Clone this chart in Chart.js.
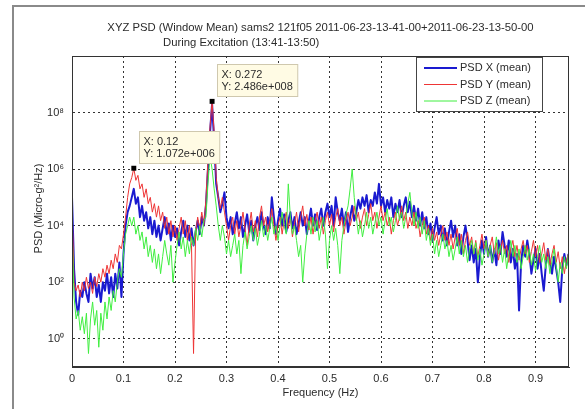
<!DOCTYPE html>
<html>
<head>
<meta charset="utf-8">
<script src="https://cdn.jsdelivr.net/npm/chart.js@4.4.1/dist/chart.umd.min.js"></script>
<style>
  html, body { margin: 0; padding: 0; background: #fff; }
  #wrap { position: relative; width: 587px; height: 409px; }
  canvas { display: block; }
</style>
</head>
<body>
<div id="wrap"><canvas id="psdChart" width="587" height="409"></canvas></div>
<script>
// frequency bins are 0.004 Hz apart, starting at 0
const FREQ_STEP = 0.004;

const psdX = [
  1e5, 3e2, 2e1, 7, 5e1, 3e1, 1e2, 4e1, 2e1, 2e2,
  6e1, 1.5e2, 3e1, 8e1, 2e1, 1e2, 5e1, 2e2, 4e1, 1.5e2,
  3e1, 2e2, 6e1, 5e2, 3e1, 1e3, 1e4, 3e4, 5e4, 1e5,
  2e5, 6e4, 1e5, 2e4, 5e4, 1.5e4, 3e4, 8e3, 2e4, 5e3,
  1.5e4, 4e3, 1e4, 3e3, 8e3, 2e4, 5e3, 1.2e4, 3e3, 1e4,
  4e3, 8e3, 2e3, 6e3, 1.5e4, 4e3, 1e4, 3e3, 8e3, 2e3,
  6e3, 1.5e4, 5e3, 2e4, 1e4, 5e4, 1e6, 2e7, 2e8, 1e7,
  3e5, 1e5, 3e4, 6e4, 1.5e5, 2e4, 8e3, 2e4, 5e3, 1.2e4,
  3e4, 8e3, 2e4, 4e3, 1e4, 2.5e4, 6e3, 1.5e4, 3e3, 1e4,
  2e4, 7e3, 3e4, 1e4, 5e3, 2e4, 8e3, 1e5, 2e4, 5e3,
  1.5e4, 4e4, 1e4, 2.5e4, 6e3, 1.5e4, 3e4, 8e3, 2e4, 5e3,
  1.2e4, 3e4, 1e4, 2e4, 5e3, 1.5e4, 4e4, 1e4, 2.5e4, 7e3,
  2e4, 4e4, 1e4, 3e4, 6e4, 2e4, 5e4, 1e4, 1e5, 3e4,
  1.5e4, 4e4, 1e4, 3e4, 6e3, 2e4, 5e4, 1.5e4, 3e4, 8e4,
  4e4, 1e5, 5e4, 1.2e5, 3e4, 8e4, 5e4, 1.5e5, 6e4, 3e5,
  5e4, 1e5, 3e4, 8e4, 4e4, 1e5, 2e4, 6e4, 3e4, 8e4,
  2e4, 5e4, 1e5, 3e4, 7e4, 2e4, 5e4, 1.5e4, 4e4, 1e4,
  3e4, 8e3, 2e4, 5e3, 1.2e4, 3e3, 8e3, 2e4, 5e3, 1e4,
  3e3, 8e3, 2e3, 6e3, 1.5e4, 4e3, 1e4, 2e3, 5e3, 1e3,
  4e3, 1e4, 3e3, 6e2, 2e3, 5e2, 1.5e3, 1e2, 8e2, 3e3,
  1e3, 4e3, 8e2, 2e3, 5e2, 1.5e3, 4e2, 3e3, 1e3, 6e3,
  2e3, 8e2, 3e3, 5e2, 1.5e3, 3e2, 1e3, 1e1, 5e2, 2e3,
  8e2, 3e3, 1e3, 2e2, 6e2, 1.5e3, 3e2, 1e3, 2e2, 5e1,
  4e2, 1.5e3, 5e2, 2e2, 8e2, 3e2, 1e2, 2e1, 3e2, 1e3,
  4e2, 1e3
];

const psdY = [
  5e4, 1e2, 5e1, 8e1, 3e1, 1e2, 5e1, 1.5e2, 6e1, 1e2,
  4e1, 1.5e2, 7e1, 2e2, 1e2, 3e2, 1.5e2, 4e2, 2e2, 6e2,
  3e2, 1e3, 5e2, 2e3, 1.5e3, 5e3, 2e4, 1e5, 3e5, 5e5,
  1.072e6, 4e5, 6e5, 2e5, 3e5, 1e5, 2e5, 6e4, 1e5, 3e4,
  6e4, 2e4, 5e4, 1.5e4, 3e4, 8e3, 2e4, 5e3, 1.5e4, 4e3,
  1e4, 3e3, 8e3, 2e4, 5e3, 1.5e4, 3e3, 1e4, 2e3, 0.3,
  5e3, 2e4, 8e3, 3e4, 1e4, 8e4, 2e6, 3e7, 2.486e8, 2e7,
  5e5, 1e5, 4e4, 1e5, 3e4, 1e4, 3e3, 1e4, 2e4, 5e3,
  1.5e4, 4e3, 1e4, 3e4, 8e3, 2e3, 1e4, 3e4, 6e3, 1.5e4,
  4e3, 2e4, 5e4, 1e4, 2e4, 6e3, 1.5e4, 4e4, 1e4, 3e3,
  1e4, 2e4, 5e3, 1.5e4, 3e4, 8e3, 2e4, 4e3, 1.2e4, 3e4,
  6e3, 2e4, 5e4, 1e4, 2.5e4, 7e3, 2e4, 5e3, 1.5e4, 3e4,
  8e3, 2e4, 5e3, 1.5e4, 3e4, 1e4, 2.5e4, 6e3, 2e4, 4e4,
  1e4, 2e4, 5e3, 1.5e4, 3e4, 1e4, 2e4, 5e4, 1.5e4, 3e4,
  8e3, 2e4, 4e4, 1e4, 2.5e4, 6e4, 1.5e4, 3e4, 8e3, 2e4,
  5e4, 1.5e4, 3e4, 1e4, 2e4, 5e3, 1.5e4, 3e4, 1e4, 2e4,
  5e4, 1.5e4, 3e4, 8e3, 2e4, 1e4, 3e4, 8e3, 1.5e4, 4e3,
  1e4, 2e4, 5e3, 1e4, 3e3, 8e3, 3e3, 6e3, 2e3, 5e3,
  1e4, 3e3, 6e3, 2e3, 5e3, 1.5e3, 4e3, 8e3, 2e3, 5e3,
  1e3, 3e3, 6e3, 2e3, 4e3, 1e3, 3e3, 8e2, 2e3, 5e3,
  1.5e3, 3e3, 8e2, 2e3, 4e3, 1e3, 2.5e3, 6e2, 1.5e3, 3e3,
  1e3, 2e3, 5e2, 1.5e3, 3e3, 8e2, 2e3, 6e2, 1.5e3, 3e3,
  1e3, 2e3, 5e2, 1.2e3, 3e3, 8e2, 2e3, 5e2, 1e3, 2.5e3,
  6e2, 1.5e3, 4e2, 1e3, 2e3, 5e2, 1.2e3, 3e2, 8e2, 2e2,
  6e2, 1e3
];

const psdZ = [
  1e4, 3e1, 5, 1e1, 2, 6, 1.5, 8, 0.3, 5,
  2e1, 3, 1e1, 0.5, 8, 2, 2e1, 5, 3e1, 1e1,
  5e1, 2e1, 1e2, 3e2, 1.5e2, 1e3, 5e3, 1e4, 2e4, 1e4,
  2e4, 5e3, 1e4, 3e3, 6e3, 1.5e3, 4e3, 8e2, 2e3, 5e2,
  1.5e3, 3e2, 1e3, 2e2, 8e2, 3e3, 1e3, 4e2, 2e3, 1e2,
  5e2, 2e3, 6e3, 1.5e3, 4e3, 8e2, 3e3, 1e3, 4e3, 2e3,
  8e3, 3e3, 1e4, 4e3, 1.5e4, 2e4, 3e5, 3e6, 1e6, 2e5,
  5e4, 1e4, 3e3, 1e4, 4e3, 1e3, 3e3, 8e2, 2e3, 5e3,
  1e3, 3e3, 2e2, 2e3, 6e3, 1.5e3, 4e3, 1e4, 3e3, 8e3,
  2e3, 5e3, 1.5e4, 4e3, 1e4, 3e3, 8e3, 2e4, 5e3, 1e4,
  3e3, 1e4, 3e4, 1e4, 5e3, 3e5, 2e4, 5e3, 1e4, 3e3,
  8e2, 2e3, 1e2, 1e3, 5e3, 1.5e4, 5e3, 2e4, 6e3, 1.5e4,
  3e3, 8e3, 2e4, 5e3, 3e2, 3e3, 1e4, 3e3, 8e3, 2e3,
  2e2, 3e3, 1e4, 2.5e4, 5e4, 2e5, 1e6, 1e5, 2e4, 5e3,
  1.5e4, 4e3, 1e4, 3e4, 8e3, 2e4, 5e3, 1.2e4, 3e4, 1e4,
  2e4, 5e3, 1.5e4, 4e4, 1e4, 2e4, 6e3, 1.5e4, 5e4, 1.5e4,
  3e4, 8e3, 2e4, 6e4, 1.5e5, 3e4, 1e4, 3e4, 8e3, 2e4,
  5e3, 1.5e4, 3e3, 8e3, 2e3, 5e3, 1e3, 3e3, 8e2, 2e3,
  5e3, 1.5e3, 3e3, 8e2, 2e3, 6e2, 1.5e3, 4e3, 1e3, 3e3,
  8e2, 2e3, 5e2, 1.5e3, 3e3, 1e3, 2.5e3, 6e2, 1.5e3, 4e2,
  1e3, 3e3, 8e2, 2e3, 5e2, 1.2e3, 4e3, 1e3, 2e3, 5e2,
  1.5e3, 3e2, 1e3, 3e3, 8e2, 2e3, 5e2, 1.5e3, 3e2, 8e2,
  2e3, 6e2, 1.5e3, 4e2, 1e3, 2.5e2, 8e2, 2e3, 5e2, 1e3,
  3e2, 8e2, 2e2, 6e2, 1.5e3, 4e2, 1e2, 5e2, 2e2, 8e2,
  3e2, 1e3
];

const seriesLabels = ["PSD X (mean)", "PSD Y (mean)", "PSD Z (mean)"];
const xTicks = [0, 0.1, 0.2, 0.3, 0.4, 0.5, 0.6, 0.7, 0.8, 0.9];
const yTicks = [1, 1e2, 1e4, 1e6, 1e8];
const yTickLabels = ["10\u2070", "10\u00b2", "10\u2074", "10\u2076", "10\u2078"];

// data tips (marked points)
const tipFreqs = [0.12, 0.272];
const tipValues = [1.072e6, 2.486e8];
const tipTexts = [["X: 0.12", "Y: 1.072e+006"], ["X: 0.272", "Y: 2.486e+008"]];

const titleLines = [
  "XYZ PSD (Window Mean) sams2 121f05 2011-06-23-13-41-00+2011-06-23-13-50-00",
  "During Excitation (13:41-13:50)"
];
const xTitle = "Frequency (Hz)";
const yTitle = "PSD (Micro-g\u00b2/Hz)";

const FONT = '"Liberation Sans", Arial, Helvetica, sans-serif';
const TEXT_COLOR = "#2b2b2b";

const freqs = psdX.map((_, i) => +(i * FREQ_STEP).toFixed(3));

function toPoints(values) {
  return values.map((v, i) => ({ x: freqs[i], y: v }));
}

const decorPlugin = {
  id: "decor",
  afterDraw(chart) {
    const { ctx, chartArea } = chart;
    const { left, right, top, bottom } = chartArea;
    const midX = (left + right) / 2;

    ctx.save();

    // figure frame
    ctx.strokeStyle = "#8a8a8a";
    ctx.lineWidth = 2;
    ctx.beginPath();
    ctx.moveTo(13, 409);
    ctx.lineTo(13, 6);
    ctx.lineTo(585, 6);
    ctx.stroke();

    // axes box
    ctx.strokeStyle = "#333";
    ctx.lineWidth = 1;
    ctx.strokeRect(left + 0.5, top + 0.5, right - left - 1, bottom - top - 1);

    // title
    ctx.fillStyle = TEXT_COLOR;
    ctx.font = "11.3px " + FONT;
    ctx.textBaseline = "middle";
    ctx.textAlign = "center";
    ctx.fillText(titleLines[0], midX, 28);
    ctx.textAlign = "left";
    ctx.fillText(titleLines[1], 163, 43);

    // axis titles
    ctx.font = "11px " + FONT;
    ctx.textAlign = "center";
    ctx.fillText(xTitle, midX, 393);
    ctx.save();
    ctx.translate(39, (top + bottom) / 2 - 3);
    ctx.rotate(-Math.PI / 2);
    ctx.fillText(yTitle, 0, 0);
    ctx.restore();

    // legend
    const lgRight = right - 27;
    const lgLeft = lgRight - 126;
    const lgTop = top + 1;
    ctx.fillStyle = "#fff";
    ctx.fillRect(lgLeft, lgTop, lgRight - lgLeft, 54);
    ctx.strokeStyle = "#444";
    ctx.strokeRect(lgLeft + 0.5, lgTop + 0.5, lgRight - lgLeft, 54);
    chart.data.datasets.slice(0, 3).forEach((ds, i) => {
      const y = lgTop + 11 + i * 16.5;
      ctx.strokeStyle = ds.borderColor;
      ctx.lineWidth = i === 0 ? 2 : 1;
      ctx.beginPath();
      ctx.moveTo(lgLeft + 8, y);
      ctx.lineTo(lgLeft + 41, y);
      ctx.stroke();
      ctx.fillStyle = TEXT_COLOR;
      ctx.textAlign = "left";
      ctx.fillText(ds.label, lgLeft + 44, y);
    });

    // data tips
    const xs = chart.scales.x;
    const ys = chart.scales.y;
    tipFreqs.forEach((f, i) => {
      const px = xs.getPixelForValue(f);
      const py = ys.getPixelForValue(tipValues[i]);
      const lines = tipTexts[i];
      const w = Math.max(...lines.map(t => ctx.measureText(t).width)) + 9;
      const bx = Math.round(px + 5) + 0.5;
      const by = Math.round(py - 37) + 0.5;
      ctx.fillStyle = "#fffbe4";
      ctx.fillRect(bx, by, w, 32);
      ctx.strokeStyle = "#cfc8ae";
      ctx.lineWidth = 1;
      ctx.strokeRect(bx, by, w, 32);
      ctx.fillStyle = TEXT_COLOR;
      ctx.textAlign = "left";
      lines.forEach((t, j) => ctx.fillText(t, bx + 4, by + 10 + j * 12.5));
    });

    ctx.restore();
  }
};

const ctx = document.getElementById("psdChart").getContext("2d");

const chartInstance = new Chart(ctx, {
  type: "line",
  data: {
    datasets: [
      {
        label: seriesLabels[0],
        data: toPoints(psdX),
        borderColor: "#1a1ad0",
        borderWidth: 2,
        order: 3
      },
      {
        label: seriesLabels[1],
        data: toPoints(psdY),
        borderColor: "#ee3535",
        borderWidth: 1,
        order: 2
      },
      {
        label: seriesLabels[2],
        data: toPoints(psdZ),
        borderColor: "#40ee40",
        borderWidth: 1,
        order: 1
      },
      {
        type: "scatter",
        label: "tips",
        data: tipFreqs.map((f, i) => ({ x: f, y: tipValues[i] })),
        pointStyle: "rect",
        pointRadius: 3.5,
        backgroundColor: "#000",
        borderColor: "#000",
        borderWidth: 0,
        order: 0
      }
    ]
  },
  options: {
    responsive: false,
    animation: false,
    layout: { padding: { left: 0, right: 18, top: 56, bottom: 0 } },
    elements: {
      point: { radius: 0 },
      line: { tension: 0, borderJoinStyle: "round" }
    },
    plugins: {
      legend: { display: false },
      tooltip: { enabled: false }
    },
    scales: {
      x: {
        type: "linear",
        min: 0,
        max: 0.965,
        afterBuildTicks: scale => { scale.ticks = xTicks.map(v => ({ value: v })); },
        afterFit: scale => { scale.height = 42; },
        ticks: {
          autoSkip: false,
          maxRotation: 0,
          padding: 5,
          color: TEXT_COLOR,
          font: { family: FONT, size: 11 },
          callback: value => String(value)
        },
        grid: { color: "#333", lineWidth: 1, drawTicks: false },
        border: { display: true, color: "#333", width: 1, dash: [2, 3] }
      },
      y: {
        type: "logarithmic",
        min: 0.1,
        max: 1e10,
        afterBuildTicks: scale => { scale.ticks = yTicks.map(v => ({ value: v })); },
        afterFit: scale => { scale.width = 72; },
        ticks: {
          padding: 8,
          color: TEXT_COLOR,
          font: { family: FONT, size: 11 },
          callback: value => yTickLabels[yTicks.indexOf(value)]
        },
        grid: { color: "#333", lineWidth: 1, drawTicks: false },
        border: { display: true, color: "#333", width: 1, dash: [2, 3] }
      }
    }
  },
  plugins: [decorPlugin]
});
</script>
</body>
</html>
